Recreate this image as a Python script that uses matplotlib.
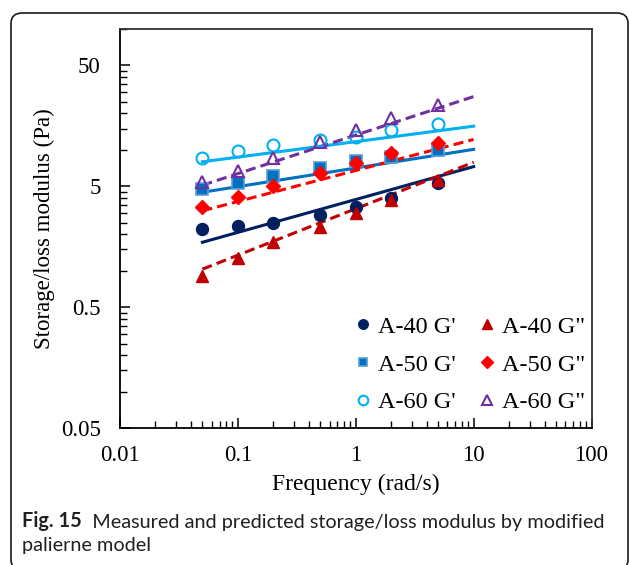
import numpy as np
import matplotlib.pyplot as plt
from matplotlib.patches import FancyBboxPatch
from matplotlib.ticker import FixedLocator, NullFormatter

# measured data (rad/s, Pa)
freq = [0.05, 0.1, 0.2, 0.5, 1, 2, 5]
a40_gp = [2.21, 2.35, 2.46, 2.88, 3.38, 3.98, 5.36]
a40_gpp = [0.90, 1.27, 1.72, 2.29, 3.0, 3.85, 5.63]
a50_gp = [4.73, 5.36, 6.08, 7.13, 8.08, 8.78, 10.0]
a50_gpp = [3.34, 4.08, 5.0, 6.4, 7.84, 9.35, 11.5]
a60_gp = [8.63, 9.7, 10.9, 12.1, 12.9, 14.6, 16.3]
a60_gpp = [5.4, 6.65, 8.5, 11.6, 14.6, 18.2, 23.3]

# model predictions (end points)
model_freq = [0.05, 10]
m40_gp = [1.72, 7.27]
m40_gpp = [1.03, 7.9]
m50_gp = [4.46, 10.1]
m50_gpp = [3.13, 12.2]
m60_gp = [7.97, 15.7]
m60_gpp = [5.1, 27.6]

c40p, c40pp = '#002060', '#C00000'
c50p, c50pp = '#0070C0', '#FF0000'
c60p, c60pp = '#00B0F0', '#7030A0'

plt.rcParams['font.family'] = ['Liberation Serif', 'DejaVu Serif']
plt.rcParams['font.size'] = 16.5

fig = plt.figure(figsize=(6.3, 5.65), dpi=100)
ax = fig.add_axes([120 / 630, 1 - 428 / 565, 471.5 / 630, 399 / 565])

lw = 2.2
dash = (3.3, 1.7)
ax.plot(model_freq, m40_gp, color=c40p, lw=lw, zorder=2)
ax.plot(model_freq, m40_gpp, color=c40pp, lw=lw, dashes=dash, zorder=2)
ax.plot(model_freq, m50_gp, color=c50p, lw=lw, zorder=2)
ax.plot(model_freq, m50_gpp, color=c50pp, lw=lw, dashes=dash, zorder=2)
ax.plot(model_freq, m60_gp, color=c60p, lw=lw, zorder=2)
ax.plot(model_freq, m60_gpp, color=c60pp, lw=lw, dashes=dash, zorder=2)

ms = 8.6
h1, = ax.plot(freq, a40_gp, 'o', ms=ms, color=c40p, label="A-40 G'", zorder=3)
h2, = ax.plot(freq, a50_gp, 's', ms=ms - 0.6, color=c50p, mec='#5B9BD5', mew=1.2,
              label="A-50 G'", zorder=3)
h3, = ax.plot(freq, a60_gp, 'o', ms=ms, mfc='none', mec=c60p, mew=1.5,
              label="A-60 G'", zorder=3)
h4, = ax.plot(freq, a40_gpp, '^', ms=ms + 0.4, color=c40pp, label='A-40 G"', zorder=4)
h5, = ax.plot(freq, a50_gpp, 'D', ms=ms - 1.2, color=c50pp, label='A-50 G"', zorder=4)
h6, = ax.plot(freq, a60_gpp, '^', ms=ms + 0.4, mfc='none', mec=c60pp, mew=1.5,
              label='A-60 G"', zorder=4)

ax.set_xscale('log')
ax.set_yscale('log')
ax.set_xlim(0.01, 100)
ax.set_ylim(0.05, 100)

ax.xaxis.set_major_locator(FixedLocator([0.01, 0.1, 1, 10, 100]))
ax.set_xticklabels(['0.01', '0.1', '1', '10', '100'])
ax.xaxis.set_minor_locator(FixedLocator([d * k for d in [0.01, 0.1, 1, 10] for k in range(2, 10)]))
ax.xaxis.set_minor_formatter(NullFormatter())

ax.yaxis.set_major_locator(FixedLocator([0.05, 0.5, 5, 50]))
ax.set_yticklabels(['0.05', '0.5', '5', '50'])
ax.yaxis.set_minor_locator(FixedLocator([d * k for d in [0.05, 0.5, 5, 50] for k in range(2, 10) if d * k <= 100]))
ax.yaxis.set_minor_formatter(NullFormatter())

ax.tick_params(which='major', direction='in', length=7, width=1.1, pad=14)
ax.tick_params(which='minor', direction='in', length=5, width=1.0)
ax.tick_params(axis='x', which='major', pad=12)
for s in ax.spines.values():
    s.set_linewidth(1.3)
ax.spines['top'].set_color('#333333')
ax.spines['right'].set_color('#333333')

ax.set_xlabel('Frequency (rad/s)', labelpad=6, fontsize=17)
ax.set_ylabel('Storage/loss modulus (Pa)', labelpad=4)

ax.legend(handles=[h1, h2, h3, h4, h5, h6], ncol=2, frameon=False,
          loc='lower right', bbox_to_anchor=(1.0176, 0.0), markerscale=0.8,
          handlelength=0.6, handletextpad=0.3, columnspacing=1.0,
          labelspacing=0.65, fontsize=17.5, borderaxespad=0.2)

# outer rounded frame
box = FancyBboxPatch((11 / 630, -5 / 565), 617 / 630, 557 / 565,
                     boxstyle='round,pad=0,rounding_size=0.018',
                     transform=fig.transFigure, fill=False, lw=1.2,
                     ec='#1a1a1a', clip_on=False)
fig.add_artist(box)

# caption
cap_font = ['Lato', 'DejaVu Sans']
t1 = fig.text(22 / 630, 1 - 527 / 565, 'Fig. 15', family=cap_font, fontsize=14.3,
              fontweight='bold', color='#231F20', va='baseline')
ax.annotate('  Measured and predicted storage/loss modulus by modified',
            xy=(1, 0), xycoords=t1, va='bottom', family=cap_font, fontsize=14.3,
            color='#231F20', annotation_clip=False)
fig.text(22 / 630, 1 - 551 / 565, 'palierne model', family=cap_font, fontsize=14.3,
         color='#231F20', va='baseline')

plt.savefig('out.png', dpi=100)
